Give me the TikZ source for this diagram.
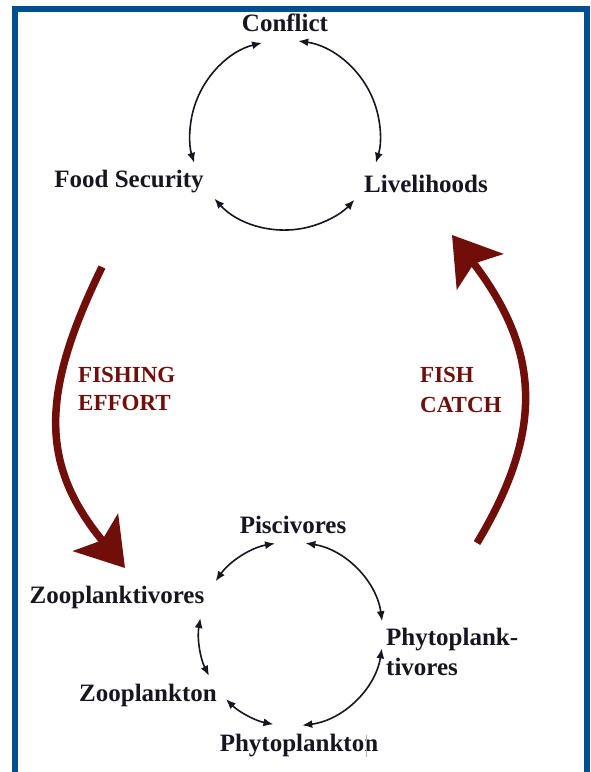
\documentclass[tikz,border=0pt]{standalone}
\usepackage{fontspec}
\setmainfont{Liberation Serif}
\usetikzlibrary{arrows.meta,calc}
\definecolor{frameblue}{RGB}{0,80,145}
\definecolor{maroonred}{RGB}{112,14,10}
\definecolor{ink}{RGB}{22,22,32}
\begin{document}
\begin{tikzpicture}[x=1pt,y=-1pt,
  lbl/.style={font=\fontsize{25}{30}\selectfont\bfseries, text=ink, inner sep=0pt},
  biglbl/.style={font=\fontsize{23}{28}\selectfont\bfseries, text=maroonred, align=left, inner sep=0pt, anchor=west},
  link/.style={draw=ink, line width=1.6pt, {Latex[length=10pt,width=8pt]}-{Latex[length=10pt,width=8pt]}},
  flow/.style={draw=maroonred, line width=7.5pt, -{Stealth[length=46pt,width=58pt,inset=10pt]}}]
\useasboundingbox (0,0) rectangle (590,772);
\clip (0,0) rectangle (590,772);
\fill[white] (0,0) rectangle (590,772);
% frame
\draw[frameblue, line width=6pt, line join=miter] (15,790) -- (15,8.5) -- (587,8.5) -- (587,790);

% labels
\node[lbl] (conflict) at (285,23) {Conflict};
\node[lbl] (food) at (129,182) {Food Security};
\node[lbl] (live) at (426,184) {Livelihoods};
\node[lbl] (pisc) at (293,525) {Piscivores};
\node[lbl] (zoopv) at (117,597) {Zooplanktivores};
\node[lbl, align=left, anchor=west] (phytov) at (386,652) {Phytoplank-\\tivores};
\node[lbl] (zoo) at (148,695) {Zooplankton};
\node[lbl] (phyto) at (299,746) {Phytoplankton};
\draw[gray!60, line width=0.8pt] (366,735) -- (366,757);

% upper cycle
\coordinate (top) at (285,135);
\coordinate (t1) at ($(top)+(256:95)$);
\coordinate (t3) at ($(top)+(278:95)$);
\coordinate (t5) at ($(top)+(138:95)$);
\draw[link] (t1) arc[start angle=256, end angle=163, radius=95];
\draw[link] (t3) arc[start angle=278, end angle=377, radius=95];
\draw[link] (t5) arc[start angle=138, end angle=43, radius=95];

% lower cycle
\coordinate (bot) at (291,634);
\coordinate (b1) at ($(bot)+(260:92)$);
\coordinate (b3) at ($(bot)+(279:92)$);
\coordinate (b5) at ($(bot)+(190:92)$);
\coordinate (b7) at ($(bot)+(135:92)$);
\coordinate (b9) at ($(bot)+(83:92)$);
\draw[link] (b1) arc[start angle=260, end angle=215, radius=92];
\draw[link] (b3) arc[start angle=279, end angle=352, radius=92];
\draw[link] (b5) arc[start angle=190, end angle=153, radius=92];
\draw[link] (b7) arc[start angle=135, end angle=101, radius=92];
\draw[link] (b9) arc[start angle=83, end angle=9, radius=92];

% big arrows
\coordinate (fe0) at (102,267);
\coordinate (fe1) at (125,568);
\draw[flow] (fe0) .. controls (42,390) and (38,463) .. (fe1);
\coordinate (fc0) at (477,543);
\coordinate (fc1) at (452,235);
\draw[flow] (fc0) .. controls (545,430) and (540,350) .. (fc1);

\node[biglbl] (fishing) at (78,389) {FISHING\\EFFORT};
\node[biglbl, font=\fontsize{23}{30}\selectfont\bfseries] (catch) at (420,390) {FISH\\CATCH};
\end{tikzpicture}
\end{document}
